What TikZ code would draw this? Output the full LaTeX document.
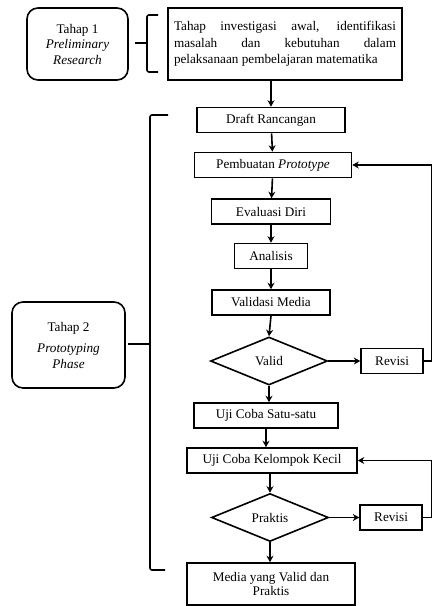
\documentclass[tikz,border=0pt]{standalone}
\usepackage{fontspec}
\setmainfont{Liberation Serif}
\usetikzlibrary{arrows.meta,shapes.geometric}
\usetikzlibrary{positioning}

\begin{document}
\begin{tikzpicture}[x=1pt,y=-1pt,
    font=\fontsize{13.2}{16.5}\selectfont,
    tahapnode/.style={rectangle, draw, line width=1.6pt, rounded corners=11pt, align=center, inner sep=2pt},
    kotaknode/.style={rectangle, draw, line width=1.6pt, align=center, inner sep=2pt, minimum height=25pt},
    cabangnode/.style={diamond, draw, line width=1.6pt, aspect=2.4, inner sep=1pt, minimum width=117pt, minimum height=48pt},
    garis/.style={line width=1.6pt},
    panah/.style={line width=1.6pt, -{Stealth[length=6.5pt,width=7pt]}}]
    \useasboundingbox (0,0) rectangle (433,606);
    %Nodes
    \node[tahapnode, minimum width=101pt, minimum height=72pt] (tahapsatu) at (77.5,44)
        {Tahap 1\\[-1pt] \textit{Preliminary}\\[-1pt] \textit{Research}};
    \node[kotaknode, minimum width=234pt, minimum height=72pt, text width=222pt, align=justify] (investigasi) at (285,44)
        {Tahap investigasi awal, identifikasi\linebreak masalah dan kebutuhan dalam\linebreak pelaksanaan pembelajaran matematika};
    \node[kotaknode, minimum width=148pt] (draft)      at (271,120)   {Draft Rancangan};
    \node[kotaknode, minimum width=157pt] (pembuatan)  at (273,165)   {Pembuatan \textit{Prototype}};
    \node[kotaknode, minimum width=119pt] (evaluasi)   at (271,211.5) {Evaluasi Diri};
    \node[kotaknode, minimum width=73pt]  (analisis)   at (271,256)   {Analisis};
    \node[kotaknode, minimum width=118pt] (validasi)   at (271,302.5) {Validasi Media};
    \node[cabangnode] (valid) at (269,361) {Valid};
    \node[kotaknode, minimum width=62pt]  (revisisatu) [right=32pt of valid] {Revisi};
    \node[kotaknode, minimum width=144pt] (ujisatu)    at (266,415.5) {Uji Coba Satu-satu};
    \node[kotaknode, minimum width=170pt] (ujikelompok) at (272,460.5) {Uji Coba Kelompok Kecil};
    \node[cabangnode] (praktis) at (270,517.5) {Praktis};
    \node[kotaknode, minimum width=62pt]  (revisidua)  [right=30pt of praktis] {Revisi};
    \node[kotaknode, minimum width=168pt, minimum height=42pt] (media) at (271,584)
        {Media yang Valid dan\\[-2pt] Praktis};
    \node[tahapnode, minimum width=113pt, minimum height=86pt] (tahapdua) at (68.5,345)
        {Tahap 2\\[5pt] \textit{Prototyping}\\[-1pt] \textit{Phase}};
    \coordinate (tepi) at (431.5,0);
    %Kurung
    \draw[garis, rounded corners=2pt] (158,15) -- (147,15) -- (147,72) -- (158,72);
    \draw[garis] (135,43) -- (147,43);
    \draw[garis, rounded corners=2pt] (168,115) -- (150,115) -- (150,570) -- (165,570);
    \draw[garis] (128,344) -- (150,344);
    %Panah
    \draw[panah] (draft.north |- investigasi.south) -- (draft.north);
    \draw[panah] (draft) -- (pembuatan);
    \draw[panah] (pembuatan) -- (evaluasi);
    \draw[panah] (evaluasi) -- (analisis);
    \draw[panah] (analisis) -- (validasi);
    \draw[panah] (validasi.south) -- (valid.north);
    \draw[panah] (valid.east) -- (revisisatu.west);
    \draw[panah] (valid.south) -- (valid.south |- ujisatu.north);
    \draw[panah] (ujisatu.south) -- (ujisatu.south |- ujikelompok.north);
    \draw[panah] (ujikelompok.south -| praktis.north) -- (praktis.north);
    \draw[panah] (praktis.east) -- (revisidua.west);
    \draw[panah] (praktis.south) -- (praktis.south |- media.north);
    \draw[panah] (revisisatu.east) -- (revisisatu.east -| tepi) -- (pembuatan.east -| tepi) -- (pembuatan.east);
    \draw[panah] (revisidua.east) -- (revisidua.east -| tepi) -- (ujikelompok.east -| tepi) -- (ujikelompok.east);
\end{tikzpicture}
\end{document}
